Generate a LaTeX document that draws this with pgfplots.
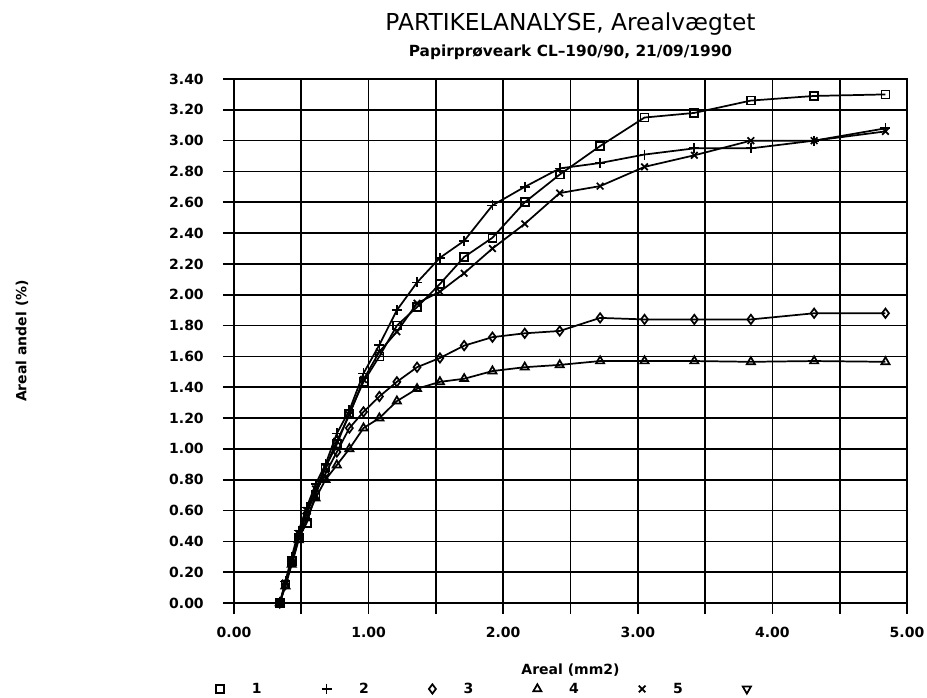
\documentclass[border=0pt]{standalone}
\usepackage{fontspec}
\setmainfont{DejaVu Sans}
\usepackage{pgfplots}
\usepackage{pgfplotstable}
\pgfplotsset{compat=1.18}

% particle size (mm2) and cumulative area share (%) for samples 1-5
\pgfplotstableread{
x     s1    s2    s3    s4    s5
0.340 0.00  0.00  0.00  0.00  0.00
0.382 0.12  0.14  0.12  0.11  0.13
0.429 0.27  0.30  0.27  0.25  0.28
0.481 0.42  0.47  0.44  0.41  0.45
0.540 0.52  0.62  0.58  0.55  0.60
0.606 0.70  0.77  0.72  0.68  0.74
0.680 0.88  0.90  0.84  0.80  0.88
0.764 1.03  1.10  0.98  0.895 1.05
0.857 1.23  1.25  1.135 1.00  1.22
0.962 1.435 1.49  1.24  1.135 1.45
1.080 1.60  1.675 1.34  1.20  1.63
1.210 1.80  1.90  1.435 1.31  1.76
1.360 1.92  2.08  1.53  1.39  1.945
1.530 2.07  2.24  1.59  1.435 2.02
1.710 2.245 2.35  1.67  1.455 2.14
1.920 2.37  2.58  1.725 1.505 2.30
2.160 2.60  2.70  1.75  1.53  2.46
2.420 2.78  2.82  1.765 1.545 2.66
2.720 2.965 2.855 1.85  1.57  2.705
3.050 3.15  2.91  1.84  1.57  2.83
3.420 3.18  2.95  1.84  1.57  2.905
3.840 3.26  2.95  1.84  1.565 3.00
4.310 3.29  3.00  1.88  1.57  3.00
4.840 3.30  3.08  1.88  1.565 3.06
}\partdata

\newcommand{\lbl}{\fontsize{10.5}{12}\selectfont\bfseries}

\begin{document}
\begin{tikzpicture}
\begin{axis}[
    at={(0,0)}, anchor=south west,
    scale only axis, width=504.75pt, height=393pt,
    xmin=0, xmax=5, ymin=0, ymax=3.4,
    xtick={0,1,...,5}, minor xtick={0.5,1.5,...,4.5},
    ytick={0,0.2,...,3.4},
    grid=both,
    grid style={black, line width=1.2pt},
    axis line style={black, line width=1.4pt},
    xtick pos=bottom, ytick pos=left,
    tick align=outside,
    major tick length=8.25pt, minor tick length=8.25pt,
    tick style={black, line width=1.2pt},
    xticklabel={\pgfmathprintnumber[fixed, fixed zerofill, precision=2, assume math mode=true]{\tick}},
    yticklabel={\pgfmathprintnumber[fixed, fixed zerofill, precision=2, assume math mode=true]{\tick}},
    ticklabel style={font=\lbl, inner sep=0pt},
    yticklabel style={anchor=east, xshift=-14.25pt},
    xticklabel style={anchor=center, yshift=-14pt},
    xlabel={Areal (mm2)},
    ylabel={Areal andel (\%)},
    xlabel style={font=\lbl, at={(axis description cs:0.5,0)}, anchor=center, yshift=-50pt},
    ylabel style={font=\lbl, at={(axis description cs:-0.315,0.5)}, anchor=center, rotate=0},
    title={PARTIKELANALYSE, Arealvægtet},
    title style={font=\fontsize{17.5}{20}\selectfont, at={(axis description cs:0.5,1)}, anchor=center, yshift=35.25pt},
    clip=false,
    every axis plot/.append style={black, line width=1.3pt, mark options={solid, fill=white, line width=1.3pt}},
    legend columns=6,
    legend image code/.code={\draw[#1, only marks] plot coordinates {(0pt,0pt)};},
    legend style={draw=none, fill=none, inner sep=0pt, font=\lbl,
        at={(axis description cs:-0.027,-0.164)}, anchor=west,
        nodes={inner sep=0pt},
        /tikz/every odd column/.append style={column sep=20.75pt},
        /tikz/every even column/.append style={column sep=45pt}},
]
\addplot[mark=square, mark size=3pt] table[x=x, y=s1] {\partdata};
\addlegendentry{1}
\addplot[mark=+, mark size=3.75pt] table[x=x, y=s2] {\partdata};
\addlegendentry{2}
\addplot[mark=diamond, mark size=3.5pt] table[x=x, y=s3] {\partdata};
\addlegendentry{3}
\addplot[mark=triangle, mark size=3.5pt] table[x=x, y=s4] {\partdata};
\addlegendentry{4}
\addplot[mark=x, mark size=3.5pt] table[x=x, y=s5] {\partdata};
\addlegendentry{5}
\addlegendimage{black, line width=1.3pt, mark=triangle, mark size=3.5pt, mark options={solid, fill=white, line width=1.3pt, rotate=180}}
\addlegendentry{}
\node[font=\fontsize{11.5}{14}\selectfont\bfseries, anchor=center]
    at (rel axis cs:0.5,1) [yshift=20.25pt] {Papirprøveark CL–190/90, 21/09/1990};
\end{axis}
\pgfresetboundingbox
\useasboundingbox (-175.5pt,-70.5pt) rectangle (519.75pt,452.25pt);
\end{tikzpicture}
\end{document}
